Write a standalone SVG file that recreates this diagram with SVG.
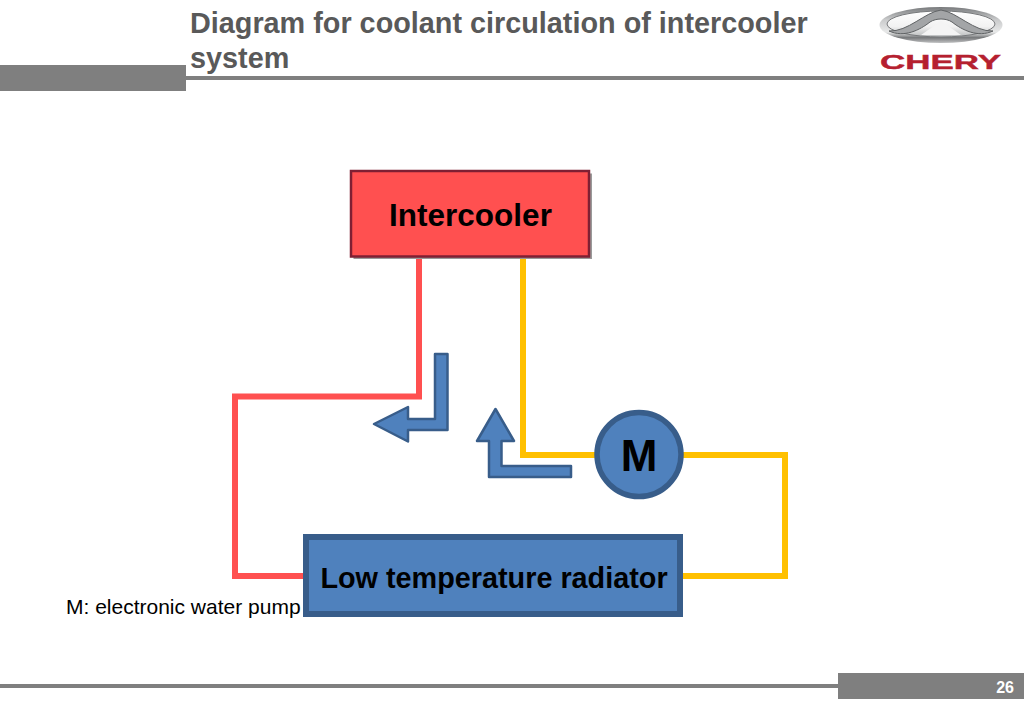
<svg xmlns="http://www.w3.org/2000/svg" width="1024" height="709" viewBox="0 0 1024 709">
<style>
.t{font-family:"Liberation Sans",Arial,sans-serif;font-weight:700;fill:#000}
.pipe{fill:none;stroke-width:6;stroke-linejoin:miter}
.band{fill:#7f7f7f}
.arrow{fill:#4f81bd;stroke:#385d8a;stroke-width:2.500;stroke-linejoin:round}
</style>
<defs>
<linearGradient id="silver" x1="0" y1="0" x2="0" y2="1">
<stop offset="0" stop-color="#77797b"/><stop offset=".35" stop-color="#c9cacb"/><stop offset=".7" stop-color="#e9eaea"/><stop offset=".85" stop-color="#77797b"/><stop offset="1" stop-color="#c0c1c2"/>
</linearGradient>
<linearGradient id="inner" x1="0" y1="0" x2="0" y2="1">
<stop offset="0" stop-color="#ffffff"/><stop offset=".6" stop-color="#f2f2f2"/><stop offset="1" stop-color="#b9bbbc"/>
</linearGradient>
</defs>
<rect width="1024" height="709" fill="#fff"/>
<g id="header">
<rect class="band" x="0" y="65" width="186" height="26"/>
<rect class="band" x="186" y="76" width="838" height="4"/>
<text x="190" y="33" font-family="Liberation Sans, Arial, sans-serif" font-weight="700" font-size="28.800" fill="#595959">Diagram for coolant circulation of intercooler</text>
<text x="190" y="68" font-family="Liberation Sans, Arial, sans-serif" font-weight="700" font-size="28.800" fill="#595959">system</text>
</g>
<g id="logo">
<ellipse cx="941" cy="25" rx="61.500" ry="18" fill="url(#silver)"/>
<ellipse cx="941" cy="24" rx="54" ry="13" fill="url(#inner)" stroke="#77797b" stroke-width="1"/>
<path d="M889 31C908 32 925 12 941 10C957 12 974 32 993 31C978 38 962 30 952 22C946 18 936 18 930 22C920 30 904 38 889 31Z" fill="#a3a5a7" stroke="#5f6264" stroke-width="1"/>
<path d="M921 35L941 21L961 35Z" fill="#f4f4f4"/>
<text x="880" y="69" font-family="Liberation Sans, Arial, sans-serif" font-weight="700" font-size="20" fill="#b5202f" stroke="#b5202f" stroke-width=".4" textLength="121" lengthAdjust="spacingAndGlyphs">CHERY</text>
</g>
<g id="connectors">
<path class="pipe" stroke="#ff5050" d="M419 257V396.500H235V576H305"/>
<path class="pipe" stroke="#ffc000" d="M523 257V455H600"/>
<path class="pipe" stroke="#ffc000" d="M680 455H785V576H680"/>
</g>
<g id="flow-arrow-left"><path class="arrow" d="M435 354H447.500V430H408V441.500L374 424L408 407V419H435Z"/></g>
<g id="flow-arrow-up"><path class="arrow" d="M571 466V477H489V441H477L495.500 409L514 441H501.500V466Z"/></g>
<g id="intercooler">
<rect x="353.500" y="173.500" width="238.500" height="85.500" fill="#9a9a9a"/>
<rect x="351" y="171" width="238" height="85.500" fill="#ff5050" stroke="#7f1f33" stroke-width="2.500"/>
<text class="t" x="470.500" y="226" font-size="31.500" text-anchor="middle">Intercooler</text>
</g>
<g id="pump">
<circle cx="639" cy="454.500" r="42" fill="#4f81bd" stroke="#385d8a" stroke-width="5.500"/>
<text class="t" x="639" y="471" font-size="44" text-anchor="middle">M</text>
</g>
<g id="radiator">
<rect x="306" y="537" width="374" height="77" fill="#4f81bd" stroke="#385d8a" stroke-width="6"/>
<text class="t" x="494" y="588" font-size="28.800" text-anchor="middle">Low temperature radiator</text>
</g>
<text id="note" x="66" y="614" font-family="Liberation Sans, Arial, sans-serif" font-size="21" fill="#000">M: electronic water pump</text>
<g id="footer">
<rect class="band" x="0" y="684" width="838" height="4"/>
<rect class="band" x="838" y="673" width="186" height="26"/>
<text x="1014" y="693" font-family="Liberation Sans, Arial, sans-serif" font-weight="700" font-size="16" fill="#fff" text-anchor="end">26</text>
</g>
</svg>
